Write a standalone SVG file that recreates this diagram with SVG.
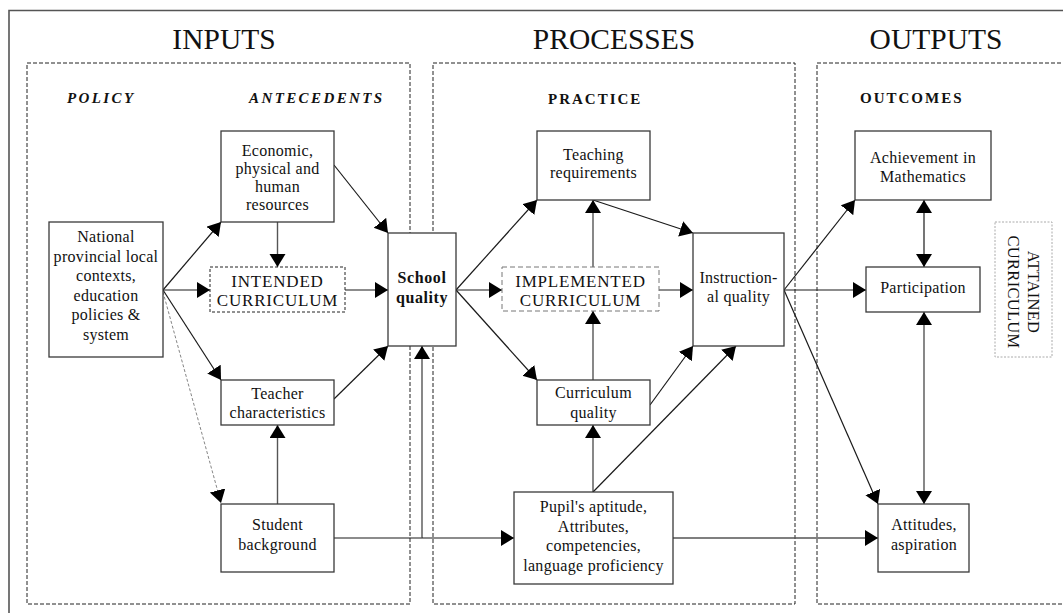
<svg xmlns="http://www.w3.org/2000/svg" width="1063" height="613" viewBox="0 0 1063 613">
  <style>
    text { font-family: "Liberation Serif", "Times New Roman", serif; fill: #111; }
    .title { font-size: 29.5px; text-anchor: middle; }
    .head { font-size: 15px; font-weight: bold; letter-spacing: 2px; }
    .headi { font-size: 15px; font-weight: bold; font-style: italic; letter-spacing: 2.4px; }
    .lbl { font-size: 16px; text-anchor: middle; letter-spacing: 0.3px; }
    .cap { font-size: 17px; text-anchor: middle; letter-spacing: 0.8px; }
    .bold { font-size: 16px; font-weight: bold; text-anchor: middle; letter-spacing: 0.6px; }
    .box { fill: #fff; stroke: #3a3a3a; stroke-width: 1.3; }
    .dbox { fill: #fff; stroke: #222; stroke-width: 1; stroke-dasharray: 3 2; }
    .gbox { fill: #fff; stroke: #777; stroke-width: 1; stroke-dasharray: 5 3; }
    .abox { fill: #fff; stroke: #aaa; stroke-width: 1; stroke-dasharray: 2 1.5; }
    .panel { fill: none; stroke: #222; stroke-width: 1; stroke-dasharray: 4 2; }
    .frame { fill: none; stroke: #555; stroke-width: 1.6; }
    .c { fill: none; stroke: #1a1a1a; stroke-width: 1.2; }
    .cg { fill: none; stroke: #555; stroke-width: 1.4; }
    .arr { marker-end: url(#ah); }
    .dbl { marker-start: url(#ahs); marker-end: url(#ah); }
    .dash { fill: none; stroke: #777; stroke-width: 0.9; stroke-dasharray: 3 2; marker-end: url(#ah); }
  </style>
  <defs>
    <marker id="ah" markerUnits="userSpaceOnUse" markerWidth="14" markerHeight="17" refX="13" refY="8" orient="auto">
      <path d="M0,0 L13,8 L0,16 z" fill="#000"/>
    </marker>
    <marker id="ahs" markerUnits="userSpaceOnUse" markerWidth="14" markerHeight="17" refX="13" refY="8" orient="auto-start-reverse">
      <path d="M0,0 L13,8 L0,16 z" fill="#000"/>
    </marker>
  </defs>

  <rect width="1063" height="613" fill="#fff"/>

  <!-- outer frame (open at right and bottom) -->
  <path class="frame" d="M9,613 L9,10.5 L1063,10.5"/>

  <!-- section panels -->
  <g id="panels">
    <rect class="panel" x="27" y="63" width="383" height="541"/>
    <rect class="panel" x="433" y="63" width="362" height="541"/>
    <rect class="panel" x="817" y="63" width="260" height="541"/>
  </g>

  <!-- section titles and column headings -->
  <g id="headings">
    <text class="title" x="224" y="49">INPUTS</text>
    <text class="title" x="614" y="49">PROCESSES</text>
    <text class="title" x="936" y="49">OUTPUTS</text>
    <text class="headi" x="67" y="103">POLICY</text>
    <text class="headi" x="249" y="103">ANTECEDENTS</text>
    <text class="head" x="548" y="104">PRACTICE</text>
    <text class="head" x="860" y="103">OUTCOMES</text>
  </g>

  <!-- connectors -->
  <g id="connectors">
    <!-- from the policy context -->
    <line class="c arr" x1="163" y1="290" x2="221" y2="222"/>
    <line class="c arr" x1="163" y1="290" x2="210" y2="290"/>
    <line class="c arr" x1="163" y1="290" x2="221" y2="380"/>
    <line class="dash" x1="163" y1="292" x2="221" y2="503"/>
    <!-- antecedents -->
    <line class="cg arr" x1="277.5" y1="222" x2="277.5" y2="267"/>
    <line class="c arr" x1="334" y1="165" x2="388" y2="233"/>
    <line class="c arr" x1="345" y1="290" x2="388" y2="290"/>
    <line class="c arr" x1="334" y1="399" x2="388" y2="346"/>
    <line class="cg arr" x1="277.5" y1="504" x2="277.5" y2="425"/>
    <!-- student background -->
    <line class="c" x1="334" y1="538" x2="422" y2="538"/>
    <line class="cg arr" x1="422" y1="538" x2="422" y2="346"/>
    <line class="c arr" x1="422" y1="538" x2="514" y2="538"/>
    <line class="cg arr" x1="673" y1="538" x2="878" y2="538"/>
    <!-- school quality -->
    <line class="c arr" x1="456" y1="290" x2="537" y2="200"/>
    <line class="c arr" x1="456" y1="290" x2="502" y2="290"/>
    <line class="c arr" x1="456" y1="290" x2="537" y2="380"/>
    <!-- practice -->
    <line class="cg arr" x1="593" y1="267" x2="593" y2="200"/>
    <line class="c arr" x1="593" y1="200" x2="693" y2="233"/>
    <line class="cg arr" x1="593" y1="380" x2="593" y2="311"/>
    <line class="c arr" x1="659" y1="290" x2="693" y2="290"/>
    <line class="c arr" x1="650" y1="405" x2="693" y2="346"/>
    <line class="cg arr" x1="593" y1="492" x2="593" y2="425"/>
    <line class="c arr" x1="593" y1="492" x2="736" y2="346"/>
    <!-- instructional quality to outcomes -->
    <line class="c arr" x1="784" y1="290" x2="855" y2="200"/>
    <line class="c arr" x1="784" y1="290" x2="866" y2="290"/>
    <line class="c arr" x1="784" y1="290" x2="878" y2="504"/>
    <!-- outcomes -->
    <line class="c dbl" x1="924" y1="200" x2="924" y2="267"/>
    <line class="cg dbl" x1="924" y1="312" x2="924" y2="504"/>
  </g>

  <!-- nodes -->
  <g id="national">
    <rect class="box" x="49" y="222" width="114" height="135"/>
    <text class="lbl" x="106" y="242">National</text>
    <text class="lbl" x="106" y="261.5">provincial local</text>
    <text class="lbl" x="106" y="281">contexts,</text>
    <text class="lbl" x="106" y="300.5">education</text>
    <text class="lbl" x="106" y="320">policies &amp;</text>
    <text class="lbl" x="106" y="339.5">system</text>
  </g>
  <g id="resources">
    <rect class="box" x="221" y="131" width="113" height="91"/>
    <text class="lbl" x="277.5" y="155.5">Economic,</text>
    <text class="lbl" x="277.5" y="173.5">physical and</text>
    <text class="lbl" x="277.5" y="192">human</text>
    <text class="lbl" x="277.5" y="209.5">resources</text>
  </g>
  <g id="intended">
    <rect class="dbox" x="210" y="267" width="135" height="45"/>
    <text class="cap" x="277.5" y="287">INTENDED</text>
    <text class="cap" x="277.5" y="306">CURRICULUM</text>
  </g>
  <g id="teacher">
    <rect class="box" x="221" y="380" width="113" height="45"/>
    <text class="lbl" x="277.5" y="399">Teacher</text>
    <text class="lbl" x="277.5" y="418">characteristics</text>
  </g>
  <g id="student">
    <rect class="box" x="221" y="504" width="113" height="68"/>
    <text class="lbl" x="277.5" y="530">Student</text>
    <text class="lbl" x="277.5" y="550">background</text>
  </g>
  <g id="school">
    <rect class="box" x="388" y="233" width="68" height="113"/>
    <text class="bold" x="422" y="283">School</text>
    <text class="bold" x="422" y="303">quality</text>
  </g>
  <g id="teaching">
    <rect class="box" x="537" y="131" width="113" height="69"/>
    <text class="lbl" x="593.5" y="160">Teaching</text>
    <text class="lbl" x="593.5" y="178">requirements</text>
  </g>
  <g id="implemented">
    <rect class="gbox" x="502" y="267" width="157" height="44"/>
    <text class="cap" x="580.5" y="287">IMPLEMENTED</text>
    <text class="cap" x="580.5" y="306">CURRICULUM</text>
  </g>
  <g id="curriculum">
    <rect class="box" x="537" y="380" width="113" height="45"/>
    <text class="lbl" x="593.5" y="398">Curriculum</text>
    <text class="lbl" x="593.5" y="418">quality</text>
  </g>
  <g id="instructional">
    <rect class="box" x="693" y="233" width="91" height="113"/>
    <text class="lbl" x="738.5" y="283">Instruction-</text>
    <text class="lbl" x="738.5" y="302">al quality</text>
  </g>
  <g id="pupil">
    <rect class="box" x="514" y="492" width="159" height="92"/>
    <text class="lbl" x="593.5" y="512">Pupil's aptitude,</text>
    <text class="lbl" x="593.5" y="531.5">Attributes,</text>
    <text class="lbl" x="593.5" y="551">competencies,</text>
    <text class="lbl" x="593.5" y="570.5">language proficiency</text>
  </g>
  <g id="achievement">
    <rect class="box" x="855" y="131" width="136" height="69"/>
    <text class="lbl" x="923" y="163">Achievement in</text>
    <text class="lbl" x="923" y="182">Mathematics</text>
  </g>
  <g id="participation">
    <rect class="box" x="866" y="267" width="114" height="45"/>
    <text class="lbl" x="923" y="293">Participation</text>
  </g>
  <g id="attitudes">
    <rect class="box" x="878" y="504" width="91" height="68"/>
    <text class="lbl" x="924" y="530">Attitudes,</text>
    <text class="lbl" x="924" y="550">aspiration</text>
  </g>
  <g id="attained">
    <rect class="abox" x="995" y="222" width="57" height="135"/>
    <text class="cap" style="font-size:16.5px;letter-spacing:0.3px" transform="translate(1028,292) rotate(90)">ATTAINED</text>
    <text class="cap" style="font-size:16.5px;letter-spacing:0.3px" transform="translate(1008,292) rotate(90)">CURRICULUM</text>
  </g>
</svg>
